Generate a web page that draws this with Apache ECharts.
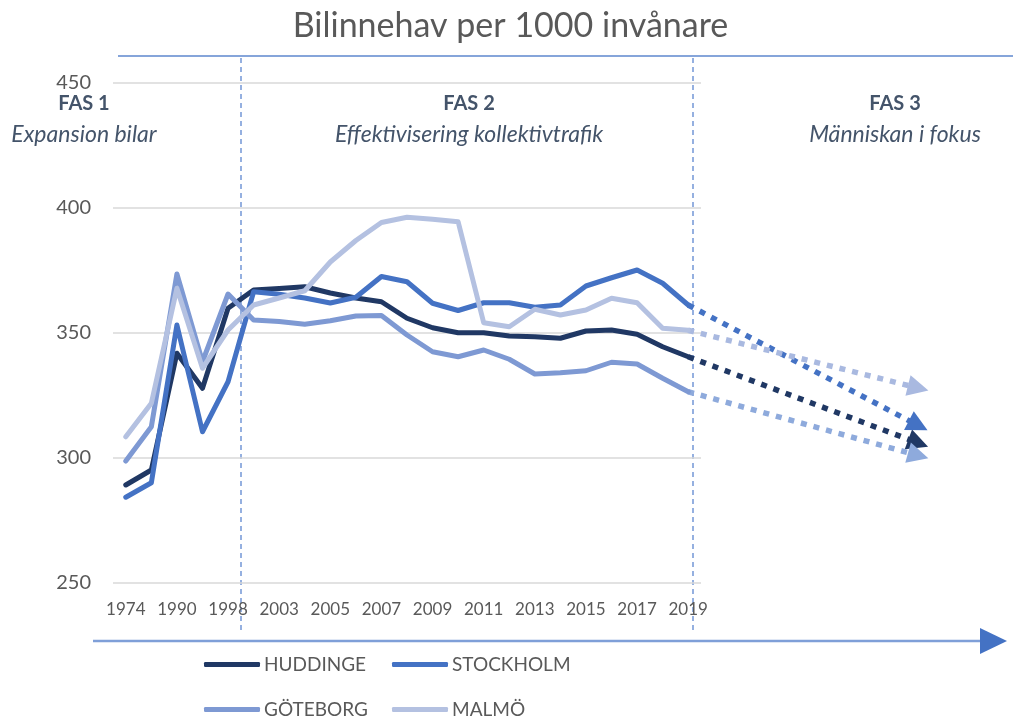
<!DOCTYPE html>
<html>
<head>
<meta charset="utf-8">
<script src="https://cdn.jsdelivr.net/npm/echarts@6/dist/echarts.min.js"></script>
<style>
html,body{margin:0;padding:0;background:#fff;}
#chart{width:1021px;height:719px;}
</style>
</head>
<body>
<div id="chart"></div>
<script>
// ---- data ----
const categories = ['1974','1980','1990','1995','1998','2000','2003','2004','2005','2006','2007','2008','2009','2010','2011','2012','2013','2014','2015','2016','2017','2018','2019'];
const futureYears = ['2020','2021','2022','2023','2024','2025','2026','2027','2028'];
const seriesNames = ['HUDDINGE','STOCKHOLM','GÖTEBORG','MALMÖ'];
const huddinge  = [289.2,295.2,341.9,327.9,359.9,367.2,367.8,368.5,366.0,364.0,362.5,355.9,352.1,350.1,350.1,348.8,348.5,347.9,350.8,351.2,349.5,344.5,340.5];
const stockholm = [284.3,290.1,353.2,310.5,330.5,366.5,365.5,364.0,362.0,364.3,372.6,370.5,361.9,359.0,362.1,362.1,360.3,361.2,368.8,372.1,375.2,369.9,361.2];
const goteborg  = [298.8,312.5,373.6,338.5,365.6,355.2,354.6,353.5,354.9,356.8,357.0,349.2,342.5,340.5,343.2,339.5,333.6,334.1,334.9,338.3,337.6,331.9,326.5];
const malmo     = [308.5,321.9,367.9,335.9,351.2,361.2,364.0,366.9,378.4,387.0,394.2,396.3,395.5,394.5,354.1,352.5,359.5,357.2,359.2,363.9,362.1,351.9,351.1];
const projectionEnd = [306, 313, 301, 328]; // value at 2028 (arrow tip)
const yTicks = [250, 300, 350, 400, 450];
const phases = [
  {title:'FAS 1', sub:'Expansion bilar'},
  {title:'FAS 2', sub:'Effektivisering kollektivtrafik'},
  {title:'FAS 3', sub:'Människan i fokus'}
];

// ---- styles ----
const FONT = 'Lato, "Open Sans", sans-serif';
const lineColors = ['#203864','#4472C4','#7E99D3','#B4C1E1'];
const projColors = ['#203864','#4472C4','#8EAADC','#A9B9E0'];
const allValues = [huddinge, stockholm, goteborg, malmo];
const projCategories = categories.concat(futureYears);
const lastCat = categories[categories.length-1];
const endCat = projCategories[projCategories.length-1];

const series = [];
seriesNames.forEach((name, i) => {
  series.push({
    name: name, type: 'line', xAxisIndex: 0, yAxisIndex: 0,
    data: allValues[i], showSymbol: false, symbol: 'none',
    color: lineColors[i],
    lineStyle: {width: 5, color: lineColors[i], cap: 'round', join: 'round'},
    z: 3 + i, silent: true
  });
});
seriesNames.forEach((name, i) => {
  const v = allValues[i];
  series.push({
    name: name + ' prognos', type: 'line', xAxisIndex: 1, yAxisIndex: 1,
    data: [], showSymbol: false, silent: true, z: 2,
    markLine: {
      silent: true, animation: false,
      symbol: ['none', 'triangle'], symbolSize: [21, 21],
      label: {show: false},
      lineStyle: {color: projColors[i], width: 5.5, type: [6, 7], cap: 'butt'},
      emphasis: {disabled: true},
      data: [[{coord: [lastCat, v[v.length-1]]}, {coord: [endCat, projectionEnd[i]]}]]
    }
  });
});

const legendPos = [[199, 650], [387, 650], [199, 695], [387, 695]];
const legends = seriesNames.map((name, i) => ({
  data: [name], left: legendPos[i][0], top: legendPos[i][1],
  itemWidth: 56, itemHeight: 5, icon: 'roundRect', itemGap: 0,
  textStyle: {fontSize: 19, color: '#595959', fontFamily: FONT, padding: [0,0,0,-1]},
  selectedMode: false
}));

const phaseX = [84, 469, 895];
const graphics = [
  {type:'line', shape:{x1:118, y1:56, x2:1013, y2:56}, style:{stroke:'#86A5DA', lineWidth:2}},
  {type:'line', shape:{x1:241, y1:58, x2:241, y2:632}, style:{stroke:'#7396D6', lineWidth:1.5, lineDash:[5,4]}},
  {type:'line', shape:{x1:693, y1:58, x2:693, y2:632}, style:{stroke:'#7396D6', lineWidth:1.5, lineDash:[5,4]}},
  {type:'line', shape:{x1:93, y1:641, x2:984, y2:641}, style:{stroke:'#7F9FD8', lineWidth:2.5}},
  {type:'polygon', shape:{points:[[980,628],[1007,641],[980,654]]}, style:{fill:'#4472C4'}}
];
phases.forEach((p, i) => {
  graphics.push({type:'text', x: phaseX[i], y: 104, style:{text:p.title, fill:'#44546A', font:'bold 20px ' + FONT, textAlign:'center', textVerticalAlign:'middle'}});
  graphics.push({type:'text', x: phaseX[i], y: 135, style:{text:p.sub, fill:'#44546A', font:'italic 23px ' + FONT, textAlign:'center', textVerticalAlign:'middle'}});
});

const option = {
  animation: false,
  backgroundColor: '#ffffff',
  title: {
    text: 'Bilinnehav per 1000 invånare', left: 'center', top: 4,
    textStyle: {fontSize: 34, fontWeight: 'normal', color: '#595959', fontFamily: FONT}
  },
  grid: [
    {left: 113, right: 320, top: 83, bottom: 136},
    {left: 113, width: 818, top: 83, bottom: 136}
  ],
  xAxis: [
    {type: 'category', gridIndex: 0, data: categories, boundaryGap: true,
     axisLine: {show: false}, axisTick: {show: false},
     axisLabel: {interval: 1, fontSize: 17, color: '#595959', fontFamily: FONT, margin: 18},
     splitLine: {show: false}},
    {type: 'category', gridIndex: 1, data: projCategories, boundaryGap: true, show: false}
  ],
  yAxis: [
    {type: 'value', gridIndex: 0, min: yTicks[0], max: yTicks[yTicks.length-1], interval: 50,
     axisLine: {show: false}, axisTick: {show: false},
     axisLabel: {fontSize: 20, color: '#595959', fontFamily: FONT, margin: 22},
     splitLine: {show: true, lineStyle: {color: '#D9D9D9', width: 1.5}}},
    {type: 'value', gridIndex: 1, min: yTicks[0], max: yTicks[yTicks.length-1], interval: 50, show: false,
     splitLine: {show: false}}
  ],
  legend: legends,
  graphic: graphics,
  series: series
};

const chart = echarts.init(document.getElementById('chart'), null, {renderer: 'canvas'});
chart.setOption(option);
</script>
</body>
</html>
